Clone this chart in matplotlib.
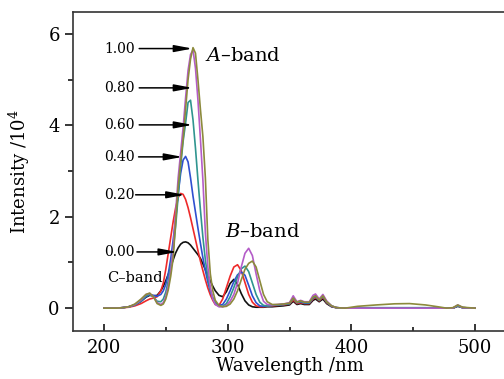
import numpy as np
import matplotlib
matplotlib.use("Agg")
import matplotlib.pyplot as plt
from matplotlib.ticker import MultipleLocator

plt.rcParams['font.family'] = 'DejaVu Serif'
plt.rcParams['mathtext.fontset'] = 'dejavuserif'

# wavelength grid (nm)
wl = [200, 210, 215, 220, 225, 230, 234, 237, 240, 243,
      246, 248, 250, 252, 254, 256, 258, 260, 262, 264,
      266, 268, 270, 272, 274, 276, 278, 280, 282, 284,
      286, 288, 290, 293, 296, 299, 302, 305, 308, 311,
      314, 317, 320, 323, 326, 329, 332, 336, 340, 345,
      350, 353, 356, 359, 362, 366, 369, 371, 374, 377,
      380, 384, 388, 395, 405, 420, 435, 447, 460, 470,
      477, 482, 486, 490, 500]

# intensity (x10^4) for each concentration
i_000 = [0.00, 0.00, 0.01, 0.03, 0.07, 0.15, 0.24, 0.28, 0.27, 0.28,
         0.38, 0.48, 0.60, 0.74, 0.90, 1.06, 1.21, 1.32, 1.40, 1.44,
         1.45, 1.43, 1.38, 1.31, 1.24, 1.17, 1.09, 0.97, 0.84, 0.71,
         0.59, 0.48, 0.38, 0.28, 0.25, 0.36, 0.54, 0.63, 0.52, 0.32,
         0.16, 0.07, 0.03, 0.02, 0.02, 0.02, 0.03, 0.03, 0.04, 0.05,
         0.07, 0.15, 0.08, 0.10, 0.08, 0.08, 0.17, 0.20, 0.14, 0.20,
         0.10, 0.03, 0.01, 0.00, 0.00, 0.00, 0.00, 0.00, 0.00, 0.00,
         0.00, 0.00, 0.04, 0.01, 0.00]
i_020 = [0.00, 0.00, 0.01, 0.02, 0.05, 0.10, 0.16, 0.20, 0.22, 0.25,
         0.38, 0.55, 0.85, 1.20, 1.55, 1.90, 2.20, 2.42, 2.51, 2.49,
         2.38, 2.20, 1.98, 1.74, 1.50, 1.26, 1.03, 0.82, 0.62, 0.44,
         0.29, 0.17, 0.08, 0.06, 0.20, 0.45, 0.70, 0.90, 0.95, 0.82,
         0.56, 0.30, 0.13, 0.05, 0.03, 0.03, 0.04, 0.05, 0.06, 0.07,
         0.09, 0.18, 0.10, 0.12, 0.10, 0.10, 0.20, 0.24, 0.16, 0.24,
         0.12, 0.04, 0.01, 0.00, 0.00, 0.00, 0.00, 0.00, 0.00, 0.00,
         0.00, 0.00, 0.05, 0.01, 0.00]
i_040 = [0.00, 0.00, 0.01, 0.03, 0.07, 0.15, 0.25, 0.30, 0.28, 0.26,
         0.30, 0.38, 0.52, 0.75, 1.08, 1.50, 1.98, 2.50, 2.95, 3.24,
         3.32, 3.20, 2.85, 2.45, 2.10, 1.75, 1.42, 1.10, 0.82, 0.57,
         0.37, 0.22, 0.12, 0.06, 0.08, 0.20, 0.38, 0.58, 0.73, 0.79,
         0.72, 0.50, 0.27, 0.12, 0.05, 0.04, 0.05, 0.06, 0.07, 0.08,
         0.10, 0.22, 0.12, 0.14, 0.11, 0.11, 0.22, 0.26, 0.17, 0.26,
         0.13, 0.04, 0.01, 0.00, 0.00, 0.00, 0.00, 0.00, 0.00, 0.00,
         0.00, 0.00, 0.05, 0.01, 0.00]
i_060 = [0.00, 0.00, 0.01, 0.03, 0.07, 0.16, 0.27, 0.30, 0.25, 0.15,
         0.14, 0.20, 0.35, 0.60, 0.92, 1.27, 1.80, 2.45, 3.10, 3.65,
         4.05, 4.50, 4.55, 4.12, 3.50, 2.80, 2.15, 1.55, 1.05, 0.68,
         0.40, 0.22, 0.10, 0.04, 0.04, 0.10, 0.25, 0.45, 0.68, 0.86,
         0.92, 0.80, 0.55, 0.30, 0.13, 0.06, 0.05, 0.06, 0.07, 0.08,
         0.10, 0.22, 0.12, 0.15, 0.12, 0.12, 0.23, 0.27, 0.18, 0.27,
         0.14, 0.05, 0.01, 0.00, 0.01, 0.01, 0.01, 0.01, 0.01, 0.00,
         0.00, 0.00, 0.05, 0.01, 0.00]
i_080 = [0.00, 0.00, 0.01, 0.03, 0.08, 0.18, 0.30, 0.32, 0.25, 0.12,
         0.08, 0.12, 0.25, 0.48, 0.82, 1.30, 2.10, 2.85, 3.40, 3.95,
         4.60, 5.20, 5.55, 5.65, 5.25, 4.55, 3.70, 2.80, 1.65, 0.90,
         0.45, 0.20, 0.08, 0.03, 0.03, 0.06, 0.15, 0.30, 0.55, 0.90,
         1.20, 1.31, 1.15, 0.75, 0.38, 0.15, 0.08, 0.07, 0.08, 0.09,
         0.12, 0.27, 0.14, 0.17, 0.14, 0.14, 0.28, 0.31, 0.20, 0.30,
         0.16, 0.05, 0.01, 0.00, 0.00, 0.00, 0.00, 0.00, 0.00, 0.00,
         0.00, 0.00, 0.07, 0.01, 0.00]
i_100 = [0.00, 0.00, 0.01, 0.03, 0.09, 0.20, 0.30, 0.33, 0.25, 0.10,
         0.06, 0.09, 0.20, 0.40, 0.70, 1.10, 1.90, 2.65, 3.20, 3.70,
         4.35, 5.00, 5.45, 5.70, 5.58, 5.00, 4.35, 3.75, 2.85, 1.50,
         0.75, 0.38, 0.17, 0.06, 0.03, 0.04, 0.09, 0.20, 0.38, 0.62,
         0.85, 0.98, 1.03, 0.90, 0.60, 0.30, 0.14, 0.08, 0.08, 0.09,
         0.11, 0.22, 0.13, 0.16, 0.13, 0.13, 0.24, 0.27, 0.18, 0.27,
         0.14, 0.05, 0.01, 0.00, 0.04, 0.07, 0.095, 0.10, 0.07, 0.03,
         0.00, 0.01, 0.07, 0.02, 0.00]

series = [i_000, i_020, i_040, i_060, i_080, i_100]
colors = ['#111111', '#ee2a2a', '#2f4fd0', '#2f958f', '#b45cc8', '#8c8a3c']

# arrow labels: text, y level, arrow tail x, arrow tip x
conc_labels = ['1.00', '0.80', '0.60', '0.40', '0.20', '0.00']
arrow_y = [5.68, 4.82, 4.01, 3.31, 2.48, 1.23]
arrow_tail = [228.5, 228.5, 228.5, 228.0, 225.6, 226.7]
arrow_tip = [271.6, 271.6, 271.6, 263.5, 265.5, 259.3]

fig = plt.figure(figsize=(5.04, 3.79), dpi=100)
ax = fig.add_axes([73/504, 48/379, 433/504, 319/379])

for y, c in zip(series, colors):
    ax.plot(wl, y, color=c, lw=1.2)

for lab, y, x0, x1 in zip(conc_labels, arrow_y, arrow_tail, arrow_tip):
    ax.text(200.5, y, lab, fontsize=10, ha='left', va='center')
    ax.annotate('', xy=(x1, y), xytext=(x0, y),
                arrowprops=dict(arrowstyle='-|>,head_length=0.9,head_width=0.17',
                                color='black', lw=1.1, mutation_scale=12,
                                shrinkA=0, shrinkB=0))

ax.text(281.5, 5.52, '$A$\u2013band', fontsize=14, ha='left', va='center')
ax.text(297.8, 1.66, '$B$\u2013band', fontsize=14, ha='left', va='center')
ax.text(202.4, 0.66, 'C\u2013band', fontsize=10.5, ha='left', va='center')

ax.set_xlim(175, 525)
ax.set_ylim(-0.5, 6.48)
ax.xaxis.set_major_locator(MultipleLocator(100))
ax.xaxis.set_minor_locator(MultipleLocator(50))
ax.yaxis.set_major_locator(MultipleLocator(2))
ax.yaxis.set_minor_locator(MultipleLocator(1))
ax.tick_params(axis='x', which='major', direction='in', length=5, width=1.1, labelsize=13, pad=6)
ax.tick_params(axis='x', which='minor', direction='in', length=3, width=1.1)
ax.tick_params(axis='y', which='major', direction='out', length=6, width=1.1, labelsize=13)
ax.tick_params(axis='y', which='minor', direction='out', length=3.5, width=1.1)
for s in ax.spines.values():
    s.set_linewidth(1.2)
    s.set_color('#333333')

ax.set_xlabel('Wavelength /nm', fontsize=13, labelpad=0)
ax.set_ylabel('Intensity /10$^4$', fontsize=13, labelpad=12)

fig.savefig('out.png', dpi=100)
